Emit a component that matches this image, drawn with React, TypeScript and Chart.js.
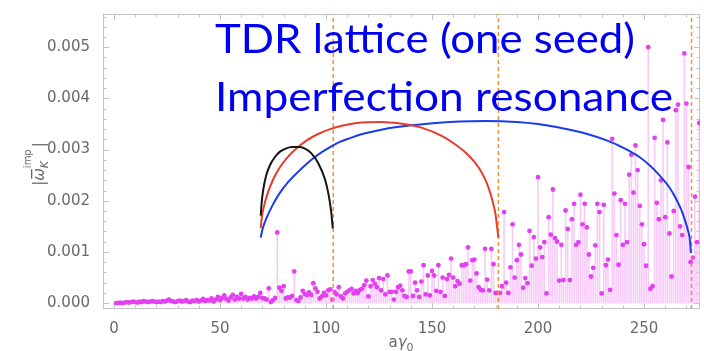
import React, { useEffect, useRef } from 'react';
import { Chart, registerables } from 'chart.js';

Chart.register(...registerables);

// ---- data ----
const FIRST_AY = 1; // strengths are listed for aγ0 = 1, 2, 3, ...
const strength = [
  0.00000, 0.00000, 0.00001, 0.00000, 0.00001, 0.00002, 0.00001, 0.00002, 0.00003, 0.00002,
  0.00001, 0.00003, 0.00002, 0.00004, 0.00003, 0.00002, 0.00003, 0.00004, 0.00003, 0.00002,
  0.00003, 0.00002, 0.00004, 0.00003, 0.00005, 0.00007, 0.00004, 0.00003, 0.00002, 0.00004,
  0.00005, 0.00003, 0.00004, 0.00006, 0.00003, 0.00002, 0.00005, 0.00004, 0.00006, 0.00003,
  0.00005, 0.00008, 0.00004, 0.00006, 0.00005, 0.00009, 0.00003, 0.00007, 0.00012, 0.00006,
  0.00010, 0.00015, 0.00008, 0.00005, 0.00011, 0.00016, 0.00007, 0.00012, 0.00009, 0.00018,
  0.00009, 0.00012, 0.00007, 0.00010, 0.00009, 0.00013, 0.00009, 0.00012, 0.00020, 0.00010,
  0.00009, 0.00007, 0.00029, 0.00002, 0.00006, 0.00010, 0.00138, 0.00030, 0.00024, 0.00033,
  0.00009, 0.00011, 0.00011, 0.00014, 0.00062, 0.00006, 0.00004, 0.00011, 0.00024, 0.00018,
  0.00016, 0.00021, 0.00016, 0.00039, 0.00029, 0.00022, 0.00009, 0.00013, 0.00020, 0.00015,
  0.00025, 0.00027, 0.00007, 0.00022, 0.00017, 0.00031, 0.00013, 0.00009, 0.00019, 0.00022,
  0.00025, 0.00028, 0.00019, 0.00024, 0.00020, 0.00026, 0.00028, 0.00035, 0.00044, 0.00013,
  0.00033, 0.00045, 0.00038, 0.00031, 0.00049, 0.00025, 0.00047, 0.00017, 0.00054, 0.00022,
  0.00022, 0.00007, 0.00022, 0.00031, 0.00034, 0.00025, 0.00014, 0.00012, 0.00062, 0.00062,
  0.00014, 0.00040, 0.00025, 0.00012, 0.00042, 0.00074, 0.00017, 0.00054, 0.00015, 0.00063,
  0.00054, 0.00024, 0.00074, 0.00022, 0.00050, 0.00014, 0.00047, 0.00055, 0.00087, 0.00050,
  0.00033, 0.00043, 0.00038, 0.00074, 0.00074, 0.00076, 0.00109, 0.00044, 0.00084, 0.00085,
  0.00058, 0.00031, 0.00026, 0.00025, 0.00106, 0.00046, 0.00025, 0.00106, 0.00076, 0.00020,
  0.00020, 0.00020, 0.00033, 0.00178, 0.00040, 0.00020, 0.00070, 0.00154, 0.00050, 0.00084,
  0.00114, 0.00095, 0.00030, 0.00049, 0.00039, 0.00141, 0.00073, 0.00129, 0.00087, 0.00246,
  0.00109, 0.00090, 0.00119, 0.00019, 0.00168, 0.00134, 0.00222, 0.00127, 0.00120, 0.00044,
  0.00114, 0.00045, 0.00181, 0.00145, 0.00045, 0.00164, 0.00194, 0.00114, 0.00119, 0.00212,
  0.00154, 0.00194, 0.00148, 0.00095, 0.00052, 0.00069, 0.00113, 0.00194, 0.00178, 0.00019,
  0.00192, 0.00074, 0.00085, 0.00026, 0.00321, 0.00214, 0.00133, 0.00075, 0.00201, 0.00114,
  0.00194, 0.00119, 0.00251, 0.00290, 0.00216, 0.00308, 0.00260, 0.00190, 0.00154, 0.00115,
  0.00073, 0.00500, 0.00028, 0.00033, 0.00323, 0.00196, 0.00164, 0.00240, 0.00358, 0.00168,
  0.00314, 0.00136, 0.00052, 0.00180, 0.00377, 0.00388, 0.00150, 0.00133, 0.00488, 0.00390,
  0.00266, 0.00080, 0.00089, 0.00208, 0.00119, 0.00352,
];

const blackX = [69.2, 69.6, 70.4, 71.8, 73.6, 76, 78.3, 81, 84, 87.5, 90.5, 93, 96.4, 99.5, 101.2, 102.4, 103.2];
const blackY = [0.00171, 0.00195, 0.00222, 0.0025, 0.0027, 0.00286, 0.00296, 0.00302, 0.00305, 0.00305, 0.00301, 0.00293, 0.00273, 0.00242, 0.00212, 0.0018, 0.00146];

const redX = [69.2, 69.8, 70.4, 72.5, 75.1, 78, 81.4, 86, 90.9, 96, 101.9, 108, 114.5, 126, 135, 145, 155, 162, 166.2, 170, 172.6, 175.5, 177.4, 179, 179.9, 180.6, 181.3];
const redY = [0.00147, 0.0017, 0.00184, 0.00215, 0.00242, 0.00264, 0.00283, 0.00302, 0.00318, 0.0033, 0.0034, 0.00347, 0.00352, 0.00354, 0.00351, 0.00343, 0.00326, 0.00307, 0.00293, 0.00276, 0.00261, 0.00238, 0.00216, 0.00192, 0.00175, 0.00152, 0.00128];

const blueX = [69.2, 70, 72, 75, 78.3, 82, 86.2, 90, 94, 98, 101.9, 106, 111, 117.6, 125, 133.4, 149, 163, 175, 190, 200, 210, 222, 233, 241, 248, 253, 257, 262, 264.6, 267.5, 269.3, 270.8, 271.7, 272.1];
const blueY = [0.00128, 0.00144, 0.00167, 0.00193, 0.00216, 0.00236, 0.00254, 0.00269, 0.00283, 0.00295, 0.00305, 0.00314, 0.00322, 0.00331, 0.00338, 0.00344, 0.00351, 0.00355, 0.00356, 0.00354, 0.0035, 0.00343, 0.00332, 0.00317, 0.00302, 0.00285, 0.00268, 0.00251, 0.00226, 0.00208, 0.00183, 0.00162, 0.00141, 0.00122, 0.00098];

const resonanceX = [103.4, 181.3, 272.4];

const xTicks = [0, 50, 100, 150, 200, 250];
const yTicks = [0, 0.001, 0.002, 0.003, 0.004, 0.005];
const X_MIN = -5.2;
const X_MAX = 276.4;
const Y_MIN = -0.000115;
const Y_MAX = 0.00565;

const titleLines = ['TDR lattice (one seed)', 'Imperfection resonance'];

// ---- helpers ----
const pairs = (xs: number[], ys: number[]) => xs.map((x, i) => ({ x, y: ys[i] }));

const GRAY = 'rgb(105,105,105)';
const FRAME = 'rgb(195,195,195)';

const framePlugin = {
  id: 'frameTicks',
  beforeDatasetsDraw(chart: any) {
    const { ctx, chartArea: a, scales } = chart;
    const x = scales.x;
    const y = scales.y;
    ctx.save();
    ctx.strokeStyle = FRAME;
    ctx.lineWidth = 1;
    ctx.strokeRect(a.left + 0.5, a.top + 0.5, a.right - a.left - 1, a.bottom - a.top - 1);
    ctx.beginPath();
    for (let v = 0; v <= 270; v += 10) {
      const px = Math.round(x.getPixelForValue(v)) + 0.5;
      const len = v % 50 === 0 ? 6 : 3.5;
      ctx.moveTo(px, a.bottom);
      ctx.lineTo(px, a.bottom - len);
      ctx.moveTo(px, a.top);
      ctx.lineTo(px, a.top + len);
    }
    for (let k = 0; k <= 28; k++) {
      const v = k * 0.0002;
      const py = Math.round(y.getPixelForValue(v)) + 0.5;
      const len = k % 5 === 0 ? 6 : 3.5;
      ctx.moveTo(a.left, py);
      ctx.lineTo(a.left + len, py);
      ctx.moveTo(a.right, py);
      ctx.lineTo(a.right - len, py);
    }
    ctx.stroke();
    ctx.restore();
  },
};

function drawFit(ctx: CanvasRenderingContext2D, text: string, x: number, y: number, w: number) {
  const m = ctx.measureText(text).width;
  const s = m > 0 ? w / m : 1;
  ctx.save();
  ctx.translate(x, y);
  ctx.scale(s, 1);
  ctx.fillText(text, 0, 0);
  ctx.restore();
}

const overlayPlugin = {
  id: 'overlayText',
  afterDraw(chart: any) {
    const ctx: CanvasRenderingContext2D = chart.ctx;
    ctx.save();
    // big blue annotation
    ctx.fillStyle = '#0000f0';
    ctx.font = '41px Lato';
    ctx.textBaseline = 'alphabetic';
    ctx.textAlign = 'left';
    drawFit(ctx, titleLines[0], 215, 53, 420);
    drawFit(ctx, titleLines[1], 215, 111, 458);

    // x axis title: a γ_0
    ctx.fillStyle = GRAY;
    const f1 = '15px "DejaVu Sans"';
    const f2 = 'italic 15px "DejaVu Sans"';
    const f3 = '11px "DejaVu Sans"';
    ctx.font = f1; const wa = ctx.measureText('a').width;
    ctx.font = f2; const wg = ctx.measureText('γ').width;
    ctx.font = f3; const w0 = ctx.measureText('0').width;
    let cx = 401 - (wa + wg + w0) / 2;
    const base = 347;
    ctx.font = f1; ctx.fillText('a', cx, base); cx += wa;
    ctx.font = f2; ctx.fillText('γ', cx, base); cx += wg;
    ctx.font = f3; ctx.fillText('0', cx, base + 4);

    // y axis title: |ω̄_K^imp|
    ctx.save();
    ctx.translate(44, 164);
    ctx.rotate(-Math.PI / 2);
    const g1 = '15px "DejaVu Sans"';
    const g2 = 'italic 15px "DejaVu Sans"';
    const g3 = '10px "DejaVu Sans"';
    const g4 = 'italic 11px "DejaVu Sans"';
    ctx.font = g1; const wb = ctx.measureText('|').width;
    ctx.font = g2; const ww = ctx.measureText('ω').width;
    ctx.font = g3; const wi = ctx.measureText('imp').width;
    ctx.font = g4; const wk = ctx.measureText('K').width;
    const total = wb + ww + Math.max(wi, wk) + wb + 2;
    let px = -total / 2;
    ctx.font = g1; ctx.fillText('|', px, 0); px += wb;
    ctx.font = g2; ctx.fillText('ω', px, 0);
    ctx.fillRect(px + 2, -13, ww - 3, 1.3);
    px += ww;
    ctx.font = g3; ctx.fillText('imp', px, -13);
    ctx.font = g4; ctx.fillText('K', px, 4);
    px += Math.max(wi, wk) + 2;
    ctx.font = g1; ctx.fillText('|', px, 0);
    ctx.restore();

    ctx.restore();
  },
};

export default function App() {
  const ref = useRef<HTMLCanvasElement | null>(null);

  useEffect(() => {
    document.body.style.margin = '0';
    const canvas = ref.current;
    if (!canvas) return;

    const points = strength.map((v, i) => ({ x: FIRST_AY + i, y: v }));
    const dashed = resonanceX.map((rx) => ({
      type: 'line' as const,
      data: [{ x: rx, y: Y_MIN }, { x: rx, y: Y_MAX }],
      borderColor: 'rgb(242,145,60)',
      borderWidth: 1.5,
      borderDash: [4, 3],
      pointRadius: 0,
      tension: 0,
      order: 3,
    }));

    const chart = new Chart(canvas, {
      type: 'line',
      data: {
        datasets: [
          {
            type: 'line',
            data: pairs(blackX, blackY),
            borderColor: 'rgb(20,20,20)',
            borderWidth: 2,
            pointRadius: 0,
            cubicInterpolationMode: 'monotone',
            order: 1,
          },
          {
            type: 'line',
            data: pairs(redX, redY),
            borderColor: 'rgb(232,60,45)',
            borderWidth: 2,
            pointRadius: 0,
            cubicInterpolationMode: 'monotone',
            order: 1,
          },
          {
            type: 'line',
            data: pairs(blueX, blueY),
            borderColor: 'rgb(25,60,235)',
            borderWidth: 2,
            pointRadius: 0,
            cubicInterpolationMode: 'monotone',
            order: 1,
          },
          ...dashed,
          {
            type: 'line',
            data: points,
            showLine: false,
            pointRadius: 2.4,
            pointBackgroundColor: 'rgb(226,64,240)',
            pointBorderWidth: 0,
            order: 4,
          },
          {
            type: 'bar',
            data: points,
            backgroundColor: 'rgba(244,182,247,0.7)',
            barThickness: 1,
            order: 5,
          },
        ] as any,
      },
      options: {
        animation: false,
        responsive: false,
        maintainAspectRatio: false,
        layout: { padding: { top: 7, right: 4, left: 0, bottom: 0 } },
        plugins: {
          legend: { display: false },
          tooltip: { enabled: false },
          title: { display: false },
        },
        scales: {
          x: {
            type: 'linear',
            min: X_MIN,
            max: X_MAX,
            offset: false,
            grid: { display: false },
            border: { display: false },
            ticks: {
              color: GRAY,
              font: { family: 'DejaVu Sans', size: 15 },
              padding: 3,
              maxRotation: 0,
              autoSkip: false,
              callback: (v: any) => String(v),
            },
            afterBuildTicks: (scale: any) => {
              scale.ticks = xTicks.map((v) => ({ value: v }));
            },
            afterFit: (scale: any) => {
              scale.height = 42;
            },
          },
          y: {
            type: 'linear',
            min: Y_MIN,
            max: Y_MAX,
            grid: { display: false },
            border: { display: false },
            ticks: {
              color: GRAY,
              font: { family: 'DejaVu Sans', size: 15 },
              padding: 5,
              autoSkip: false,
              callback: (v: any) => Number(v).toFixed(3),
            },
            afterBuildTicks: (scale: any) => {
              scale.ticks = yTicks.map((v) => ({ value: v }));
            },
            afterFit: (scale: any) => {
              scale.width = 103;
            },
          },
        },
      } as any,
      plugins: [framePlugin, overlayPlugin],
    });

    return () => chart.destroy();
  }, []);

  return (
    <div style={{ width: 704, height: 351, background: '#fff' }}>
      <canvas ref={ref} width={704} height={351} />
    </div>
  );
}
